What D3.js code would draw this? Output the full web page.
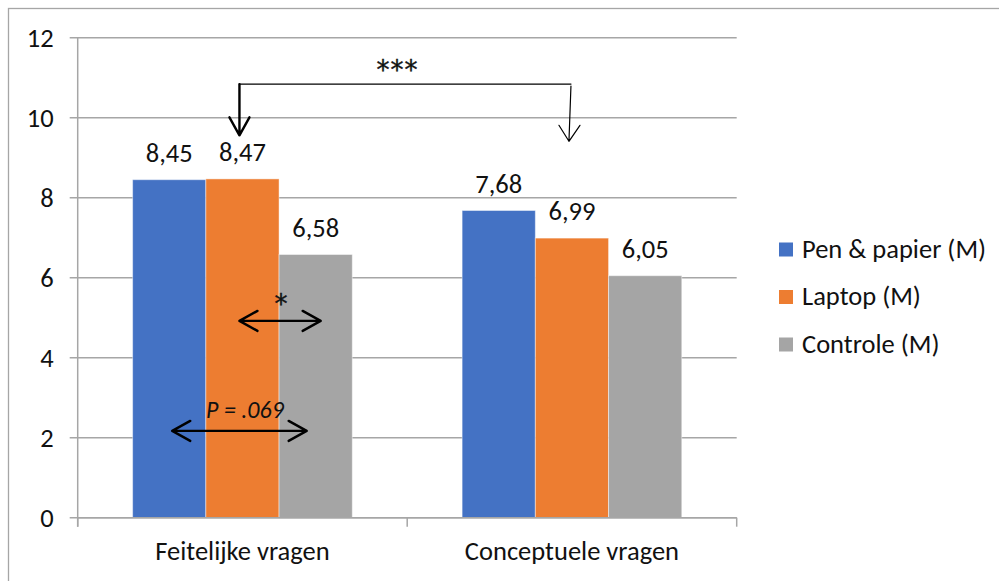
<!DOCTYPE html>
<html>
<head>
<meta charset="utf-8">
<script src="https://cdn.jsdelivr.net/npm/d3@7"></script>
<style>
  html, body { margin: 0; padding: 0; background: #fff; }
  svg { display: block; }
  text { font-family: Calibri, Carlito, Lato, sans-serif; fill: #111; }
</style>
</head>
<body>
<svg id="chart" width="999" height="581"></svg>
<script>
// Gemiddelde scores per conditie en vraagtype
const categories = ["Feitelijke vragen", "Conceptuele vragen"];
const seriesNames = ["Pen & papier (M)", "Laptop (M)", "Controle (M)"];
const penPapier = [8.45, 7.68];
const laptop = [8.47, 6.99];
const controle = [6.58, 6.05];
const seriesColors = ["#4472C4", "#ED7D31", "#A5A5A5"];
const yTicks = [0, 2, 4, 6, 8, 10, 12];

const seriesValues = [penPapier, laptop, controle];

const svg = d3.select("#chart");
const plot = { left: 77.7, right: 736.7, top: 37.7, bottom: 517.7 };
const FS = 26.5;

const x0 = d3.scaleBand().domain(categories).range([plot.left, plot.right]).paddingInner(0).paddingOuter(0);
const x1 = d3.scaleBand().domain(seriesNames).range([0, x0.bandwidth()]).paddingInner(0).paddingOuter(0.75);
const y = d3.scaleLinear().domain([0, 12]).range([plot.bottom, plot.top]);

const nl = d3.formatLocale({ decimal: ",", thousands: ".", grouping: [3], currency: ["€", ""] });
const fmt = nl.format(".2f");

// chart frame
svg.append("rect")
  .attr("x", 8.5).attr("y", 8.5)
  .attr("width", 1100).attr("height", 700)
  .attr("fill", "none").attr("stroke", "#a6a6a6").attr("stroke-width", 1.3);

// horizontal gridlines (with small tick stubs to the left of the axis)
svg.append("g").selectAll("line").data(yTicks).join("line")
  .attr("x1", plot.left - 8).attr("x2", plot.right)
  .attr("y1", d => y(d)).attr("y2", d => y(d))
  .attr("stroke", "#a6a6a6").attr("stroke-width", 1.5);

// y axis
const yAxis = svg.append("g")
  .attr("transform", `translate(${plot.left},0)`)
  .call(d3.axisLeft(y).tickValues(yTicks).tickSize(0).tickPadding(24).tickFormat(d3.format("d")));
yAxis.select(".domain").remove();
yAxis.selectAll("text").attr("font-size", FS).attr("dy", "0.35em")
  .style("font-family", "Calibri, Carlito, Lato, sans-serif").attr("fill", "#111");
svg.append("line")
  .attr("x1", plot.left).attr("x2", plot.left)
  .attr("y1", plot.top).attr("y2", plot.bottom + 9)
  .attr("stroke", "#a6a6a6").attr("stroke-width", 1.5);

// bars
const groups = svg.append("g").selectAll("g").data(categories).join("g")
  .attr("transform", d => `translate(${x0(d)},0)`);

groups.selectAll("rect")
  .data((c, ci) => seriesNames.map((s, si) => ({ s, si, v: seriesValues[si][ci] })))
  .join("rect")
  .attr("x", d => x1(d.s))
  .attr("y", d => y(d.v))
  .attr("width", x1.bandwidth())
  .attr("height", d => y(0) - y(d.v))
  .attr("fill", d => seriesColors[d.si])
  .attr("stroke", "#ffffff").attr("stroke-opacity", 0.45).attr("stroke-width", 1);

// value labels
groups.selectAll("text.val")
  .data((c, ci) => seriesNames.map((s, si) => ({ s, si, v: seriesValues[si][ci] })))
  .join("text").attr("class", "val")
  .attr("x", d => x1(d.s) + x1.bandwidth() / 2)
  .attr("y", d => y(d.v) - 18)
  .attr("text-anchor", "middle").attr("font-size", FS)
  .text(d => fmt(d.v));

// x axis line and category ticks
svg.append("line")
  .attr("x1", plot.left).attr("x2", plot.right)
  .attr("y1", plot.bottom).attr("y2", plot.bottom)
  .attr("stroke", "#a6a6a6").attr("stroke-width", 1.5);
const xAxis = svg.append("g")
  .attr("transform", `translate(0,${plot.bottom})`)
  .call(d3.axisBottom(x0).tickSize(0).tickPadding(23));
xAxis.select(".domain").remove();
xAxis.selectAll("text").attr("font-size", FS)
  .style("font-family", "Calibri, Carlito, Lato, sans-serif").attr("fill", "#111");
const boundaries = [plot.left, x0(categories[1]), plot.right];
svg.append("g").selectAll("line").data(boundaries).join("line")
  .attr("x1", d => d).attr("x2", d => d)
  .attr("y1", plot.bottom).attr("y2", plot.bottom + 9)
  .attr("stroke", "#a6a6a6").attr("stroke-width", 1.5);

// legend
const legend = svg.append("g").attr("transform", "translate(779,242.5)");
const li = legend.selectAll("g").data(seriesNames).join("g")
  .attr("transform", (d, i) => `translate(0,${i * 47.5})`);
li.append("rect").attr("width", 14).attr("height", 14).attr("fill", (d, i) => seriesColors[i]);
li.append("text").attr("x", 23).attr("y", 15).attr("font-size", FS).text(d => d);

// significance annotations
const cx = (cat, s) => x0(cat) + x1(s) + x1.bandwidth() / 2;
const ann = svg.append("g").attr("fill", "none").attr("stroke", "#000").attr("stroke-linecap", "round").attr("stroke-linejoin", "round");

// significance stars, centred on (x, yc)
function stars(x, yc, label) {
  svg.append("text")
    .attr("x", x)
    .attr("y", yc + 15)
    .attr("text-anchor", "middle")
    .attr("font-size", 26)
    .attr("letter-spacing", label.length > 1 ? 1 : 0)
    .attr("stroke", "#111").attr("stroke-width", 0.4)
    .style("font-family", "'DejaVu Sans', sans-serif")
    .text(label);
}

// bracket between the two laptop bars (***)
const bx1 = cx(categories[0], seriesNames[1]) - 3;
const bx2 = cx(categories[1], seriesNames[1]) - 1;
const by = y(10.84);
const tipL = y(9.56), tipR = y(9.41);
ann.append("path").attr("stroke-width", 1.3)
  .attr("d", `M${bx1},${by}H${bx2}`);
ann.append("path").attr("stroke-width", 2.4)
  .attr("d", `M${bx1},${by}V${tipL}M${bx1 - 10},${tipL - 18}L${bx1},${tipL}L${bx1 + 10},${tipL - 18}`);
ann.append("path").attr("stroke-width", 1.2)
  .attr("d", `M${bx2},${by + 2}L${bx2 - 2},${tipR}M${bx2 - 12},${tipR - 16}L${bx2 - 2},${tipR}L${bx2 + 9},${tipR - 16}`);
stars(397.5, 64, "***");

// laptop vs controle, feitelijke vragen (*)
const ax1 = cx(categories[0], seriesNames[1]) - 3;
const ax2 = cx(categories[0], seriesNames[2]) + 5;
const ay = y(4.92);
ann.append("path").attr("stroke-width", 2.4)
  .attr("d", `M${ax1},${ay}H${ax2}M${ax1 + 18},${ay - 10}L${ax1},${ay}L${ax1 + 18},${ay + 10}M${ax2 - 18},${ay - 10}L${ax2},${ay}L${ax2 - 18},${ay + 10}`);
stars(281, 298, "*");

// pen & papier vs controle, feitelijke vragen (P = .069)
const px1 = cx(categories[0], seriesNames[0]) + 3;
const px2 = cx(categories[0], seriesNames[2]) - 9;
const py = y(2.17);
ann.append("path").attr("stroke-width", 2.4)
  .attr("d", `M${px1},${py}H${px2}M${px1 + 18},${py - 10}L${px1},${py}L${px1 + 18},${py + 10}M${px2 - 18},${py - 10}L${px2},${py}L${px2 - 18},${py + 10}`);
svg.append("text").attr("x", 245).attr("y", 418).attr("text-anchor", "middle")
  .attr("font-size", 24).attr("font-style", "italic").text("P = .069");
</script>
</body>
</html>
